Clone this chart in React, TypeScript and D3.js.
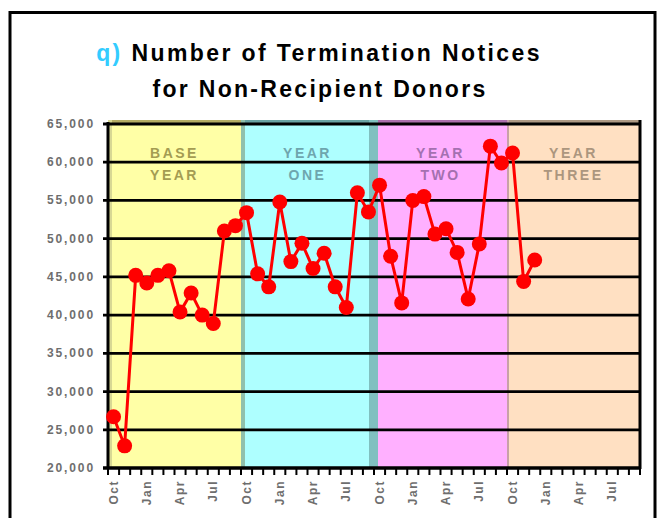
import React from 'react';
import * as d3 from 'd3';

// monthly values, starting in October of the base year
const notices = [
  26700, 22900, 45200, 44200, 45200, 45800, 40400, 42900, 40000, 38900, 51000, 51700,
  53400, 45400, 43700, 54800, 47000, 49400, 46100, 48100, 43700, 41000, 56000, 53500,
  57000, 47700, 41600, 55000, 55500, 50600, 51300, 48200, 42100, 49300, 62100, 59900,
  61200, 44400, 47200,
];
const monthCount = 48;
const quarterLabels = [
  'Oct', 'Jan', 'Apr', 'Jul', 'Oct', 'Jan', 'Apr', 'Jul',
  'Oct', 'Jan', 'Apr', 'Jul', 'Oct', 'Jan', 'Apr', 'Jul',
];
const bandNames = [
  ['BASE', 'YEAR'],
  ['YEAR', 'ONE'],
  ['YEAR', 'TWO'],
  ['YEAR', 'THREE'],
];
const yTicks = [20000, 25000, 30000, 35000, 40000, 45000, 50000, 55000, 60000, 65000];

const bandStyle = [
  { fill: '#ffffa6', top: '#b4ac64', text: '#a49c52', left: '#d8d894' },
  { fill: '#aeffff', top: '#6aa4a4', text: '#6ea6ae', left: '#90c0ac' },
  { fill: '#ffb0ff', top: '#ac70ac', text: '#a470b0', left: '#80c0c0' },
  { fill: '#ffe0c2', top: '#ae9a84', text: '#ac967e', left: '#c8a0a8' },
];

const W = 662;
const H = 518;
const left = 108;
const right = 640;
const top = 124;
const bottom = 468;

export default function App() {
  const x = d3.scaleBand<number>().domain(d3.range(monthCount)).range([left, right]).padding(0);
  const y = d3.scaleLinear().domain([20000, 65000]).range([bottom, top]);
  const bw = x.bandwidth();
  const cx = (i: number) => (x(i) as number) + bw / 2;
  const fmt = d3.format(',');

  const line = d3
    .line<number>()
    .x((_, i) => cx(i))
    .y((d) => y(d));

  const bandW = bw * 12;

  return (
    <svg
      width={W}
      height={H}
      style={{ position: 'absolute', left: 0, top: 0, display: 'block', background: '#fff' }}
      fontFamily="'Liberation Sans', Arial, sans-serif"
    >
      <rect x={10} y={12.5} width={645} height={600} fill="#fff" stroke="#000" strokeWidth={3} />

      {/* title */}
      <text x={319} y={61} textAnchor="middle" fontSize={23} fontWeight="bold" letterSpacing={2.4}>
        <tspan fill="#33ccff">q)</tspan>
        <tspan fill="#000"> Number of Termination Notices</tspan>
      </text>
      <text x={320} y={97} textAnchor="middle" fontSize={23} fontWeight="bold" letterSpacing={2.3}>
        for Non-Recipient Donors
      </text>

      {/* year bands */}
      {bandNames.map((name, b) => {
        const bx = left + b * bandW;
        const s = bandStyle[b];
        return (
          <g key={b}>
            <rect x={bx} y={120} width={bandW} height={bottom - 120} fill={s.fill} />
            <rect x={bx} y={120} width={bandW} height={4} fill={s.top} />
            <rect x={bx} y={120} width={b === 3 ? 2 : 4} height={bottom - 120} fill={s.left} />
            {name.map((word, k) => (
              <text
                key={k}
                x={bx + bandW / 2}
                y={158 + k * 22}
                textAnchor="middle"
                fontSize={14}
                fontWeight="bold"
                letterSpacing={2.5}
                fill={s.text}
              >
                {word}
              </text>
            ))}
          </g>
        );
      })}
      <rect x={left + bandW * 2 - 5} y={120} width={5} height={bottom - 120} fill="#80c0c0" />

      {/* gridlines + y ticks */}
      {yTicks.map((t) => (
        <g key={t}>
          <line x1={left - 5} x2={right} y1={y(t)} y2={y(t)} stroke="#000" strokeWidth={2.8} />
          <text
            x={95}
            y={y(t) + 4}
            textAnchor="end"
            fontSize={12}
            fontWeight="bold"
            letterSpacing={1.9}
            fill="#6e6e6e"
          >
            {fmt(t)}
          </text>
        </g>
      ))}

      {/* axes */}
      <line x1={left} x2={left} y1={top - 2} y2={bottom + 1} stroke="#000" strokeWidth={3} />
      <line x1={right} x2={right} y1={top - 4} y2={bottom + 1} stroke="#000" strokeWidth={3} />
      <line x1={left - 5} x2={right + 1} y1={bottom} y2={bottom} stroke="#000" strokeWidth={3} />
      {d3.range(monthCount + 1).map((i) => {
        const tx = left + i * bw;
        return <line key={i} x1={tx} x2={tx} y1={bottom} y2={bottom + 7} stroke="#000" strokeWidth={2} />;
      })}
      {quarterLabels.map((lab, i) => {
        const lx = cx(i * 3);
        return (
          <text
            key={i}
            transform={`translate(${lx},480) rotate(-90)`}
            textAnchor="end"
            dy="0.35em"
            fontSize={12}
            fontWeight="bold"
            letterSpacing={1.5}
            fill="#6e6e6e"
          >
            {lab}
          </text>
        );
      })}

      {/* series */}
      <path d={line(notices) || ''} fill="none" stroke="#ff0000" strokeWidth={3} />
      {notices.map((v, i) => (
        <circle key={i} cx={cx(i)} cy={y(v)} r={7.5} fill="#ff0000" />
      ))}
    </svg>
  );
}
